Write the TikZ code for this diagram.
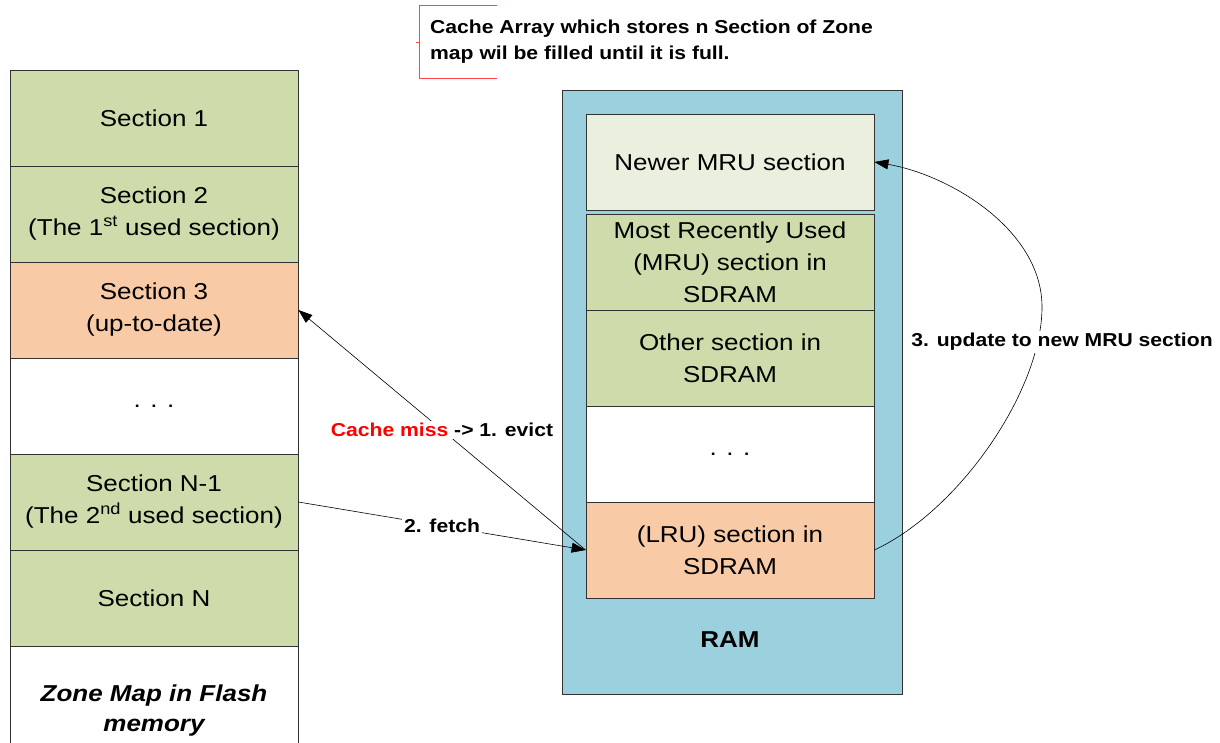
\documentclass[tikz,border=0pt]{standalone}
\usepackage{fontspec}
\setmainfont[FakeStretch=1.13]{Liberation Sans}
\usetikzlibrary{arrows.meta}
\definecolor{secgreen}{RGB}{205,220,170}
\definecolor{secorange}{RGB}{248,203,166}
\definecolor{secnew}{RGB}{235,240,222}
\definecolor{ramblue}{RGB}{155,209,222}
\definecolor{edge}{RGB}{50,50,50}
\definecolor{callred}{RGB}{255,70,70}
\tikzset{
  secbox/.style={draw=edge, line width=0.8pt, minimum width=288pt, minimum height=96pt,
    align=center, inner sep=0pt, font=\fontsize{23}{32}\selectfont},
  lbl/.style={font=\bfseries\fontsize{18.7}{26}\selectfont, inner sep=1pt},
  arr/.style={draw=black, line width=0.6pt, -{Triangle[length=14pt,width=10pt]}},
}
\begin{document}
\begin{tikzpicture}[x=1pt,y=-1pt]
\useasboundingbox (0,0) rectangle (1220,742);
% left column
\node[secbox, fill=secgreen] (sec1) at (154,118) {Section 1};
\node[secbox, fill=secgreen] (sec2) at (154,214) {Section 2\\(The 1\textsuperscript{st} used section)};
\node[secbox, fill=secorange] (sec3) at (154,310) {Section 3\\(up-to-date)};
\node[secbox, fill=white] (dots1) at (154,406) {. . .};
\node[secbox, fill=secgreen] (secN1) at (154,502) {Section N-1\\(The 2\textsuperscript{nd} used section)};
\node[secbox, fill=secgreen] (secN) at (154,598) {Section N};
\node[secbox, fill=white, minimum height=130pt, font=\bfseries\itshape\fontsize{23}{30}\selectfont] (zone) at (154,711) {Zone Map in Flash\\memory};
% RAM
\node[draw=edge, line width=0.8pt, fill=ramblue, minimum width=340pt, minimum height=604pt, inner sep=0pt] (ram) at (732,392) {};
\node[font=\bfseries\fontsize{23}{28}\selectfont] (ramlbl) at (730,640) {RAM};
\node[secbox, fill=secnew] (newer) at (730,162) {Newer MRU section};
\node[secbox, fill=secgreen] (mru) at (730,262) {Most Recently Used\\(MRU) section in\\SDRAM};
\node[secbox, fill=secgreen] (other) at (730,358) {Other section in\\SDRAM};
\node[secbox, fill=white] (dots2) at (730,454) {. . .};
\node[secbox, fill=secorange] (lru) at (730,550) {(LRU) section in\\SDRAM};
% callout
\coordinate (ct) at (497,5.5);
\coordinate (cb) at (497,78);
\draw[callred, line width=0.8pt] (ct) -- (419,5.5) -- (419,78) -- (cb);
\draw[callred, line width=0.8pt] (416,42) -- (419,42);
\node[lbl, anchor=west, align=left] (callout) at (429,42) {Cache Array which stores n Section of Zone\\map wil be filled until it is full.};
% connectors
\draw[arr] (lru.west) -- node[lbl, fill=white, inner sep=2pt] (evictlbl) {\textcolor{red}{Cache miss} -> 1. evict} (sec3.east);
\draw[arr] (secN1.east) -- node[lbl, fill=white, inner sep=2pt] (fetchlbl) {2. fetch} (lru.west);
\coordinate (bulge) at (1042,307);
\draw[arr] (lru.east) .. controls (960,510) and (1042,390) .. (bulge) .. controls (1042,230) and (950,175) .. (newer.east);
\node[lbl, fill=white, inner sep=2pt] (updlbl) at (1062,342) {3. update to new MRU section};
\end{tikzpicture}
\end{document}
